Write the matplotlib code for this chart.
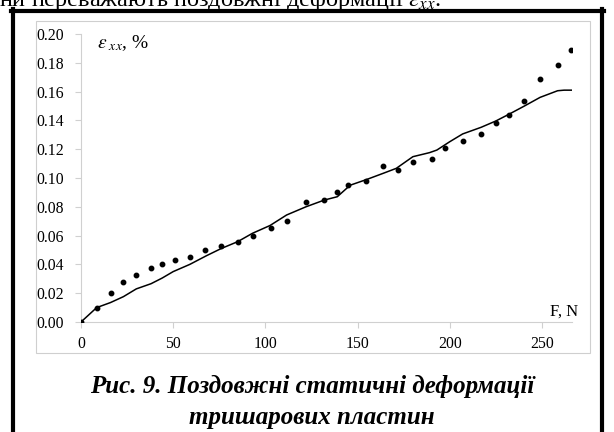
import matplotlib
matplotlib.use("Agg")
import matplotlib.pyplot as plt
from matplotlib.lines import Line2D
from matplotlib.patches import Rectangle

plt.rcParams['font.family'] = ['Liberation Serif', 'DejaVu Serif']
plt.rcParams['mathtext.fontset'] = 'stix'

# експериментальні точки
f_points = [0, 8.5, 16, 23, 30, 38, 44, 51, 59, 67, 76, 85, 93.5, 103, 111.5,
            122, 132, 139, 145, 154.5, 164, 172, 180, 190.5, 197.5, 207, 217,
            225, 232, 240.5, 249, 258.5, 265.5]
eps_points = [0.0, 0.010, 0.020, 0.0275, 0.0325, 0.0375, 0.040, 0.0428, 0.045,
              0.050, 0.0525, 0.0553, 0.060, 0.065, 0.070, 0.083, 0.085, 0.090,
              0.095, 0.098, 0.108, 0.1055, 0.111, 0.113, 0.121, 0.1257, 0.1308,
              0.1384, 0.1435, 0.1535, 0.1688, 0.1787, 0.1887]

# розрахункова крива
f_line = [0, 8.5, 16, 23, 30, 38, 44, 50, 59, 68, 76, 85, 93, 102.5, 111.5, 122,
          132, 139, 146, 155, 164, 171, 180, 189, 193, 200, 207, 217, 225, 232,
          240.5, 249, 258.5, 262, 266]
eps_line = [0.0, 0.010, 0.0135, 0.0176, 0.023, 0.0266, 0.0305, 0.035, 0.040,
            0.046, 0.051, 0.0558, 0.0616, 0.067, 0.0743, 0.080, 0.0847, 0.087,
            0.095, 0.099, 0.1033, 0.1067, 0.1148, 0.1176, 0.1194, 0.1252, 0.1306,
            0.1352, 0.1396, 0.1442, 0.150, 0.156, 0.1606, 0.161, 0.161]

x_ticks = [0, 50, 100, 150, 200, 250]
y_ticks = [0.00, 0.02, 0.04, 0.06, 0.08, 0.10, 0.12, 0.14, 0.16, 0.18, 0.20]

W, H = 614, 432
fig = plt.figure(figsize=(W / 100, H / 100), dpi=100)

def fx(px):
    return px / W

def fy(py):
    return 1 - py / H

# рамка та текст над нею
fig.text(fx(-1), fy(6), r'ни переважають поздовжні деформації $\varepsilon_{xx}$.',
         fontsize=17.5, va='baseline', ha='left')
fig.add_artist(Rectangle((fx(36), fy(353)), fx(590) - fx(36), fy(21) - fy(353),
                         transform=fig.transFigure, fill=False,
                         edgecolor='#cfcfcf', lw=0.8))
bw = 3.0
fig.add_artist(Line2D([fx(13), fx(13)], [fy(9), 0], transform=fig.transFigure,
                      color='black', lw=bw))
fig.add_artist(Line2D([fx(11), fx(604)], [fy(11), fy(11)], transform=fig.transFigure,
                      color='black', lw=bw))
fig.add_artist(Line2D([fx(601.5), fx(601.5)], [fy(9), 0], transform=fig.transFigure,
                      color='black', lw=bw))

ax = fig.add_axes([fx(81), fy(322), fx(572) - fx(81), fy(34) - fy(322)])
ax.plot(f_line, eps_line, color='black', lw=1.1, zorder=3)
ax.plot(f_points, eps_points, 'o', color='black', markersize=3.2, zorder=4)

ax.set_xlim(0, 266.3)
ax.set_ylim(0, 0.20)
ax.set_xticks(x_ticks)
ax.set_yticks(y_ticks)
ax.set_yticklabels([f"{v:.2f}" for v in y_ticks])
for s in ['top', 'right']:
    ax.spines[s].set_visible(False)
for s in ['left', 'bottom']:
    ax.spines[s].set_color('#d0d0d0')
    ax.spines[s].set_linewidth(0.8)
ax.tick_params(axis='both', colors='#d0d0d0', labelcolor='black', labelsize=11.3,
               length=4, width=0.8, direction='out')
ax.tick_params(axis='x', pad=6)
ax.tick_params(axis='y', pad=8)

fig.text(fx(97), fy(48), r'$\varepsilon_{\ xx}$, %', va='baseline', fontsize=14)
fig.text(fx(578), fy(316), 'F, N', ha='right', va='baseline', fontsize=12)

# підпис
fig.text(fx(312), fy(393), 'Рис. 9. Поздовжні статичні деформації', ha='center',
         va='baseline', fontsize=18, fontweight='bold', fontstyle='italic')
fig.text(fx(312), fy(424), 'тришарових пластин', ha='center',
         va='baseline', fontsize=18, fontweight='bold', fontstyle='italic')

fig.savefig('out.png', dpi=100)
